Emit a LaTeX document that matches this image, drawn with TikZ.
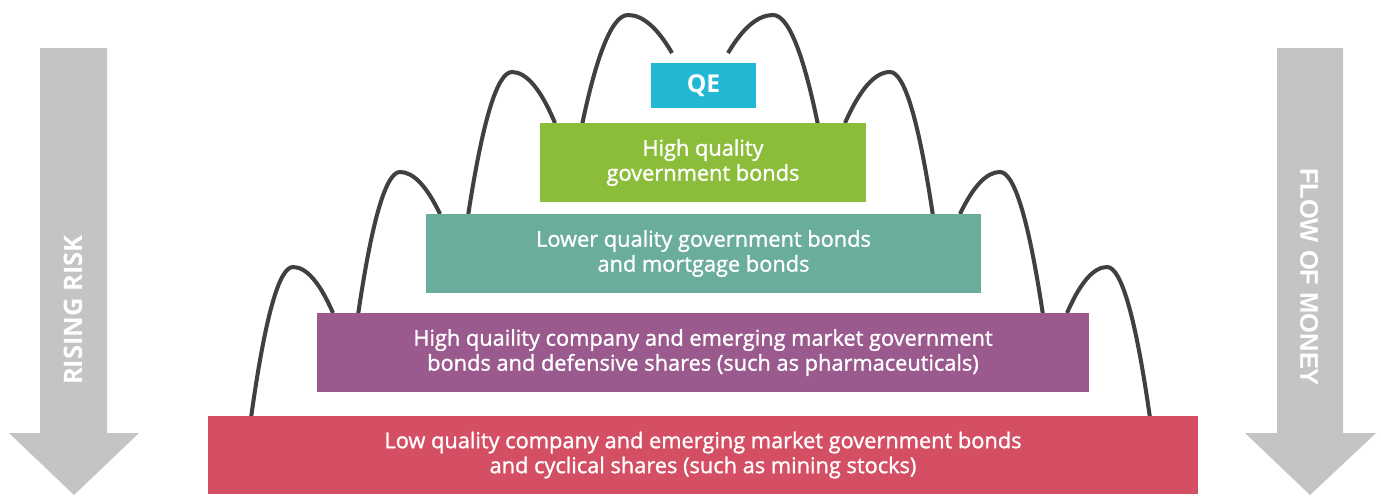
\documentclass[tikz,border=0pt]{standalone}
\usepackage{fontspec}
\setmainfont{Open Sans}
\newfontfamily\boxfont[FakeBold=1.2]{Open Sans}
\newfontfamily\moneyfont{Liberation Sans}
\definecolor{qecyan}{HTML}{22B8D4}
\definecolor{govgreen}{HTML}{8BBD3A}
\definecolor{mortteal}{HTML}{6AAD9C}
\definecolor{emplum}{HTML}{9B5A8E}
\definecolor{cycred}{HTML}{D44F63}
\definecolor{arrowgrey}{HTML}{C4C4C4}
\definecolor{archgrey}{HTML}{404040}

\begin{document}
\begin{tikzpicture}[x=0.02cm,y=-0.02cm,
    tier/.style={fill=#1, text=white, inner sep=0pt, align=center,
      font=\boxfont\fontsize{12.4}{14.2}\selectfont, minimum height=1.58cm},
    arch/.style={draw=archgrey, line width=2.3pt},
    sidelabel/.style={text=white, inner sep=0pt}]
\useasboundingbox (0,0) rectangle (1381,495);

% grey side arrows
\fill[arrowgrey] (40,48) -- (107,48) -- (107,433) -- (139,433) -- (74,495)
  -- (9,433) -- (40,433) -- cycle;
\fill[arrowgrey] (1277,48) -- (1343,48) -- (1343,433) -- (1376,433) -- (1310,495)
  -- (1245,433) -- (1277,433) -- cycle;
\node[sidelabel, rotate=90, font=\bfseries\fontsize{14.5}{16}\selectfont] (risk) at (73,310) {RISING RISK};
\node[sidelabel, rotate=-90, font=\moneyfont\bfseries\fontsize{14.5}{16}\selectfont] (money) at (1309,277) {FLOW OF MONEY};

% arches (foot - peak - cut end)
\draw[arch] (582,125) .. controls (597.3,51.7) and (612.7,15) .. (628,15)
  .. controls (642.7,15) and (657.3,27.7) .. (672,53);
\draw[arch] (728,53) .. controls (743,27.7) and (758,15) .. (773,15)
  .. controls (788,15) and (803,51.7) .. (818,125);
\draw[arch] (468,216) .. controls (482.7,120) and (497.3,72) .. (512,72)
  .. controls (526.3,72) and (540.7,89) .. (555,123);
\draw[arch] (845,123) .. controls (860,89) and (875,72) .. (890,72)
  .. controls (904.3,72) and (918.7,120) .. (933,216);
\draw[arch] (358,315) .. controls (372,219.7) and (386,172) .. (400,172)
  .. controls (413.3,172) and (426.7,186) .. (440,214);
\draw[arch] (960,214) .. controls (973.3,186) and (986.7,172) .. (1000,172)
  .. controls (1014.3,172) and (1028.7,219.7) .. (1043,315);
\draw[arch] (251,418) .. controls (265,317.3) and (279,267) .. (293,267)
  .. controls (306.3,267) and (319.7,282.3) .. (333,313);
\draw[arch] (1067,313) .. controls (1080.3,282.3) and (1093.7,267) .. (1107,267)
  .. controls (1121.3,267) and (1135.7,317.3) .. (1150,418);

% tiers
\node[tier=qecyan, minimum width=2.1cm, minimum height=0.9cm,
  font=\bfseries\fontsize{14}{16}\selectfont] (qe) at (703.5,85.5) {QE};
\node[tier=govgreen, minimum width=6.52cm] (green) at (703,162.5)
  {High quality\\government bonds};
\node[tier=mortteal, minimum width=11.1cm] (teal) at (703.5,253.5)
  {Lower quality government bonds\\and mortgage bonds};
\node[tier=emplum, minimum width=15.44cm] (plum) at (703,352.5)
  {High quaility company and emerging market government\\bonds and defensive shares (such as pharmaceuticals)};
\node[tier=cycred, minimum width=19.8cm, minimum height=1.56cm] (red) at (703,455)
  {Low quality company and emerging market government bonds\\and cyclical shares (such as mining stocks)};
\end{tikzpicture}
\end{document}
